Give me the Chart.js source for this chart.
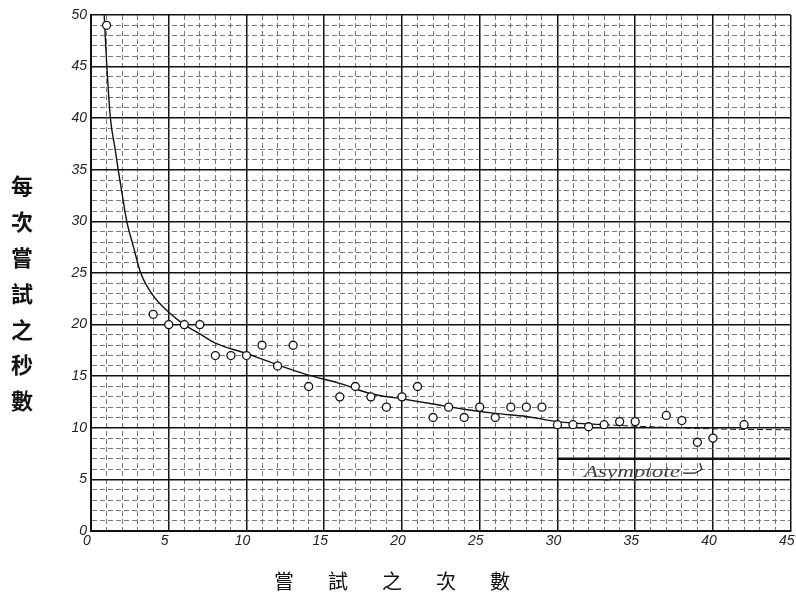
<!DOCTYPE html>
<html>
<head>
<meta charset="utf-8">
<script src="https://cdn.jsdelivr.net/npm/chart.js@4.4.0/dist/chart.umd.min.js"></script>
<style>
  body { margin: 0; background: #fff; }
  canvas { display: block; }
</style>
</head>
<body>
<canvas id="trialChart" width="796" height="606"></canvas>
<script>
// trial number / seconds per trial
const trialNo = [1, 4, 5, 6, 7, 8, 9, 10, 11, 12, 13, 14, 16, 17, 18, 19, 20, 21, 22, 23, 24, 25, 26, 27, 28, 29, 30, 31, 32, 33, 34, 35, 37, 38, 39, 40, 42];
const seconds = [49, 21, 20, 20, 20, 17, 17, 17, 18, 16, 18, 14, 13, 14, 13, 12, 13, 14, 11, 12, 11, 12, 11, 12, 12, 12, 10.3, 10.3, 10.1, 10.3, 10.6, 10.6, 11.2, 10.7, 8.6, 9.0, 10.3];

// hand drawn curve, sampled by eye
const curveX = [0.85, 1, 1.25, 1.55, 1.75, 2.05, 2.3, 2.7, 3.2, 4, 5, 6, 7, 8, 10, 12, 14, 16, 18, 20, 22, 24, 26, 28, 30, 33, 36, 40, 45];
const curveY = [50, 45.5, 40, 37, 35, 32.2, 30, 27.7, 25, 22.8, 21.2, 20, 19.1, 18.2, 17.2, 16.1, 15.1, 14.3, 13.3, 12.8, 12.3, 11.8, 11.4, 11.1, 10.6, 10.3, 10.1, 9.9, 9.8];

const asymX = [30, 45];
const asymY = [7, 7];

const yTitle = ['每', '次', '嘗', '試', '之', '秒', '數'];
const xTitle = ['嘗', '試', '之', '次', '數'];

function pairs(xs, ys) {
  return xs.map((x, i) => ({ x: x, y: ys[i] }));
}

const tickFont = { family: 'Liberation Sans', size: 14, style: 'italic' };

const isMajor = (ctx) => ctx.tick && ctx.tick.value % 5 === 0;

const titles = {
  id: 'titles',
  afterDraw(chart) {
    const { ctx, scales: { x, y } } = chart;
    ctx.save();
    ctx.fillStyle = '#111';
    ctx.textAlign = 'center';
    ctx.textBaseline = 'middle';
    ctx.font = 'bold 22px "Noto Sans CJK TC"';
    yTitle.forEach((c, i) => ctx.fillText(c, 22, 186 + i * 35.8));
    ctx.font = '20px "Noto Sans CJK TC"';
    xTitle.forEach((c, i) => ctx.fillText(c, 284 + i * 54, 581));

    // asymptote note, hand lettered in the original
    const tx = x.getPixelForValue(31.7);
    const ty = y.getPixelForValue(5.6);
    ctx.font = 'italic 16px "Liberation Serif"';
    ctx.fillStyle = '#444';
    ctx.textAlign = 'left';
    const w = ctx.measureText('Asymptote').width;
    ctx.save();
    ctx.translate(tx, ty);
    ctx.scale(96 / w, 1);
    ctx.fillText('Asymptote', 0, 0);
    ctx.restore();
    ctx.strokeStyle = '#222';
    ctx.lineWidth = 1.3;
    ctx.beginPath();
    ctx.moveTo(tx + 99, ty);
    ctx.lineTo(tx + 111, ty);
    ctx.lineTo(tx + 118, ty - 4);
    ctx.lineTo(tx + 116, ty - 10);
    ctx.stroke();
    ctx.restore();
  }
};

new Chart(document.getElementById('trialChart'), {
  type: 'scatter',
  data: {
    datasets: [
      {
        label: 'seconds',
        data: pairs(trialNo, seconds),
        pointStyle: 'circle',
        pointRadius: 4,
        pointBorderWidth: 1.3,
        pointBorderColor: '#111',
        pointBackgroundColor: '#fff',
        showLine: false
      },
      {
        label: 'curve',
        type: 'line',
        data: pairs(curveX, curveY),
        borderColor: '#111',
        borderWidth: 1.4,
        pointRadius: 0,
        cubicInterpolationMode: 'monotone',
        segment: {
          borderDash: (ctx) => ctx.p0.parsed.x >= 33 ? [6, 3] : undefined,
          borderWidth: (ctx) => ctx.p0.parsed.x >= 33 ? 1 : 1.4
        }
      },
      {
        label: 'asymptote',
        type: 'line',
        data: pairs(asymX, asymY),
        borderColor: '#111',
        borderWidth: 2.5,
        pointRadius: 0
      }
    ]
  },
  options: {
    responsive: false,
    animation: false,
    layout: { padding: { top: 15, right: 1, left: 0, bottom: 0 } },
    plugins: { legend: { display: false }, tooltip: { enabled: false } },
    scales: {
      x: {
        type: 'linear',
        min: 0,
        max: 45,
        ticks: {
          stepSize: 1,
          autoSkip: false,
          maxRotation: 0,
          labelOffset: -4,
          padding: 2,
          color: '#222',
          font: tickFont,
          callback: (v) => v % 5 === 0 ? v : ''
        },
        grid: {
          drawTicks: false,
          color: (ctx) => isMajor(ctx) ? '#111' : '#555',
          lineWidth: (ctx) => isMajor(ctx) ? 1.5 : 0.8
        },
        border: {
          color: '#111',
          width: 2,
          dash: (ctx) => ctx.tick && ctx.tick.value % 5 !== 0 ? [5, 3] : []
        },
        afterFit(scale) {
          scale.height = 75;
          scale.paddingLeft = 0;
          scale.paddingRight = 0;
        }
      },
      y: {
        type: 'linear',
        min: 0,
        max: 50,
        ticks: {
          stepSize: 1,
          autoSkip: false,
          padding: 4,
          color: '#222',
          font: tickFont,
          callback: (v) => v % 5 === 0 ? v : ''
        },
        grid: {
          drawTicks: false,
          color: (ctx) => isMajor(ctx) ? '#111' : '#555',
          lineWidth: (ctx) => isMajor(ctx) ? 1.5 : 0.8
        },
        border: {
          color: '#111',
          width: 2,
          dash: (ctx) => ctx.tick && ctx.tick.value % 5 !== 0 ? [5, 3] : []
        },
        afterFit(scale) {
          scale.width = 91;
          scale.paddingTop = 0;
          scale.paddingBottom = 0;
        }
      }
    }
  },
  plugins: [titles]
});
</script>
</body>
</html>
